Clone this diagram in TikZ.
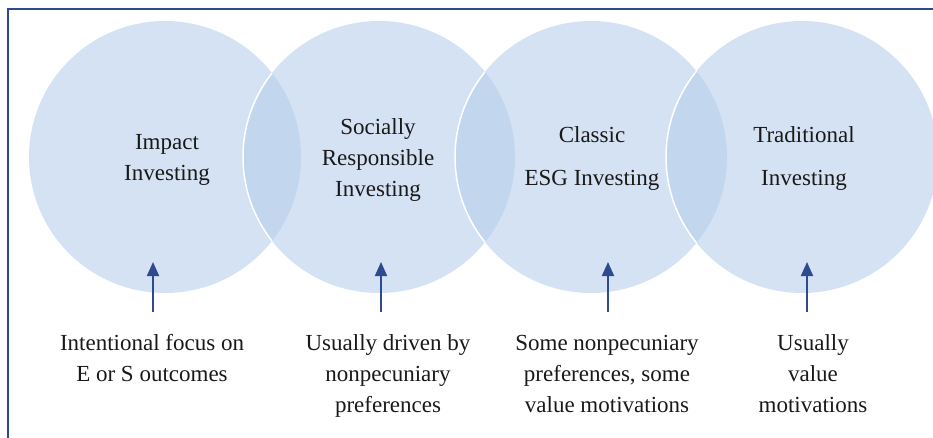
\documentclass[tikz,border=0pt]{standalone}
\usepackage{fontspec}
\setmainfont{Liberation Serif}
\usetikzlibrary{arrows.meta}
\definecolor{circfill}{HTML}{D5E2F3}
\definecolor{lensfill}{HTML}{C2D6EE}
\definecolor{framecol}{HTML}{2E4A8E}
\definecolor{arrcol}{HTML}{2F4B8F}
\begin{document}
\begin{tikzpicture}[x=1pt,y=1pt,
  circlab/.style={align=center,font=\fontsize{23}{31}\selectfont,text=black!90,inner sep=0pt},
  desclab/.style={align=center,font=\fontsize{23}{31}\selectfont,text=black!90,inner sep=0pt,anchor=base},
  uparrow/.style={draw=arrcol,line width=1.8pt,-{Triangle[width=12pt,length=14pt]}},
  lens/.style={fill=lensfill}]
\useasboundingbox (0,0) rectangle (933,437);
% frame
\draw[framecol,line width=2pt] (8,-10) -- (8,428) -- (945,428);
% circle centres
\coordinate (o1) at (165,280);
\coordinate (o2) at (379,280);
\coordinate (o3) at (591,280);
\coordinate (o4) at (802,280);
\def\R{136pt}
\foreach \c in {o1,o2,o3,o4}{\fill[circfill] (\c) circle (\R);}
% lenses
\begin{scope}\clip (o1) circle (\R); \fill[lensfill] (o2) circle (\R); \draw[white,line width=1.5pt] (o2) circle (\R);\end{scope}
\begin{scope}\clip (o2) circle (\R); \fill[lensfill] (o3) circle (\R); \draw[white,line width=1.5pt] (o3) circle (\R);\end{scope}
\begin{scope}\clip (o3) circle (\R); \fill[lensfill] (o4) circle (\R); \draw[white,line width=1.5pt] (o4) circle (\R);\end{scope}
% circle labels
\node[circlab] (t1) at (167,277) {Impact\\Investing};
\node[circlab] (t2) at (378,277) {Socially\\Responsible\\Investing};
\node[circlab] (t3) at (592,278) {Classic\\[12pt]ESG Investing};
\node[circlab] (t4) at (804,278) {Traditional\\[12pt]Investing};
% descriptions
\node[desclab] (d1) at (152,56) {Intentional focus on\\E or S outcomes};
\node[desclab] (d2) at (388,25) {Usually driven by\\nonpecuniary\\preferences};
\node[desclab] (d3) at (607,25) {Some nonpecuniary\\preferences, some\\value motivations};
\node[desclab] (d4) at (813,25) {Usually\\value\\motivations};
% arrows
\coordinate (a1) at (153,125); \coordinate (b1) at (153,175);
\coordinate (a2) at (381,125); \coordinate (b2) at (381,175);
\coordinate (a3) at (608,125); \coordinate (b3) at (608,175);
\coordinate (a4) at (807,125); \coordinate (b4) at (807,175);
\foreach \i in {1,2,3,4}{\draw[uparrow] (a\i) -- (b\i);}
\end{tikzpicture}
\end{document}
